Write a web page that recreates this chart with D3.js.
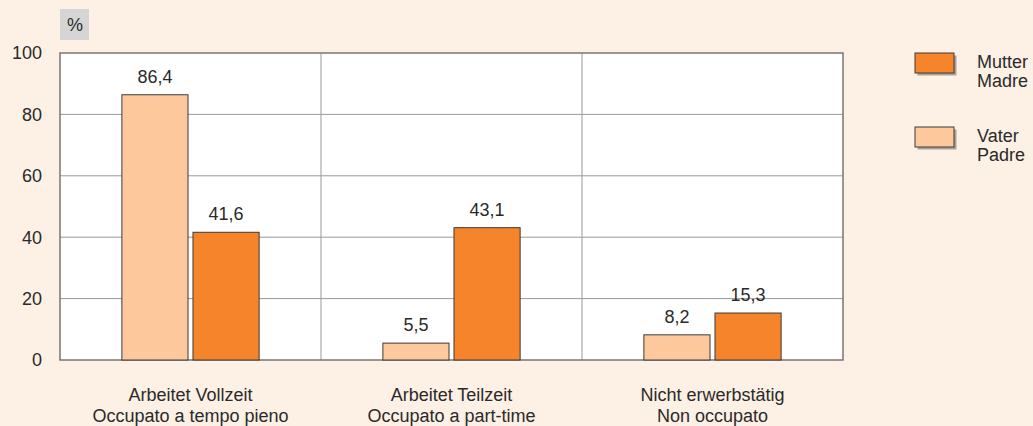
<!DOCTYPE html>
<html>
<head>
<meta charset="utf-8">
<script src="https://cdn.jsdelivr.net/npm/d3@7"></script>
<style>
  body { margin: 0; background: #fdf0e4; }
  text { font-family: "Liberation Sans", Arial, sans-serif; fill: #2a2a2a; }
</style>
</head>
<body>
<svg id="chart" width="1033" height="426"></svg>
<script>
var categories = ["Arbeitet Vollzeit|Occupato a tempo pieno", "Arbeitet Teilzeit|Occupato a part-time", "Nicht erwerbstätig|Non occupato"];
var series = ["Vater", "Mutter"];
var vater = [86.4, 5.5, 8.2];
var mutter = [41.6, 43.1, 15.3];
var yTicks = [0, 20, 40, 60, 80, 100];
var legendLabels = [["Mutter", "Madre"], ["Vater", "Padre"]];

var colors = { Vater: "#fdc99c", Mutter: "#f5842b" };

var svg = d3.select("#chart"),
    margin = {top: 53, right: 190, bottom: 66, left: 60},
    width = +svg.attr("width") - margin.left - margin.right,
    height = +svg.attr("height") - margin.top - margin.bottom;

var data = categories.map(function(c, i) {
	return { cat: c, Vater: vater[i], Mutter: mutter[i] };
});

var x0 = d3.scaleBand().domain(categories).range([0, width]).padding(0);
var x1 = d3.scaleBand().domain(series).range([0, x0.bandwidth()])
	.paddingInner(0.07).paddingOuter(0.87);
var y = d3.scaleLinear().domain([0, 100]).range([height, 0]);

var g = svg.append("g")
	.attr("transform", "translate(" + margin.left + "," + margin.top + ")");

// plot background
g.append("rect")
	.attr("width", width).attr("height", height)
	.attr("fill", "#fff");

// horizontal grid
g.selectAll(".grid")
	.data(yTicks.slice(1, -1))
	.enter().append("line")
	.attr("x1", 0).attr("x2", width)
	.attr("y1", function(d) { return y(d); })
	.attr("y2", function(d) { return y(d); })
	.attr("stroke", "#999").attr("stroke-width", 1);

// category dividers
g.selectAll(".div")
	.data(categories.slice(1))
	.enter().append("line")
	.attr("x1", function(d) { return x0(d); })
	.attr("x2", function(d) { return x0(d); })
	.attr("y1", 0).attr("y2", height)
	.attr("stroke", "#999").attr("stroke-width", 1);

// frame
g.append("rect")
	.attr("width", width).attr("height", height)
	.attr("fill", "none").attr("stroke", "#7a7470").attr("stroke-width", 1.5);

// y axis labels
g.selectAll(".ytick")
	.data(yTicks)
	.enter().append("text")
	.attr("x", -18)
	.attr("y", function(d) { return y(d); })
	.attr("dy", "0.36em")
	.attr("text-anchor", "end")
	.attr("font-size", 18)
	.text(function(d) { return d; });

// bars
var groups = g.selectAll(".cat")
	.data(data)
	.enter().append("g")
	.attr("transform", function(d) { return "translate(" + x0(d.cat) + ",0)"; });

groups.selectAll("rect")
	.data(function(d) { return series.map(function(s) { return { key: s, value: d[s] }; }); })
	.enter().append("rect")
	.attr("x", function(d) { return x1(d.key); })
	.attr("y", function(d) { return y(d.value); })
	.attr("width", x1.bandwidth())
	.attr("height", function(d) { return height - y(d.value); })
	.attr("fill", function(d) { return colors[d.key]; })
	.attr("stroke", "#3a3a3a").attr("stroke-width", 1);

groups.selectAll(".val")
	.data(function(d) { return series.map(function(s) { return { key: s, value: d[s] }; }); })
	.enter().append("text")
	.attr("x", function(d) { return x1(d.key) + x1.bandwidth() / 2; })
	.attr("y", function(d) { return y(d.value) - 12; })
	.attr("text-anchor", "middle")
	.attr("font-size", 18)
	.text(function(d) { return d3.format(".1f")(d.value).replace(".", ","); });

// category labels
groups.each(function(d) {
	var lines = d.cat.split("|");
	d3.select(this).selectAll(".cl")
		.data(lines)
		.enter().append("text")
		.attr("x", x0.bandwidth() / 2)
		.attr("y", function(t, i) { return height + 41 + i * 21; })
		.attr("text-anchor", "middle")
		.attr("font-size", 18)
		.text(function(t) { return t; });
});

// percent box
svg.append("rect")
	.attr("x", 60).attr("y", 9).attr("width", 29).attr("height", 31)
	.attr("fill", "#d5d5d5");
svg.append("text")
	.attr("x", 75).attr("y", 25).attr("dy", "0.36em")
	.attr("text-anchor", "middle").attr("font-size", 18)
	.text("%");

// legend
var legend = svg.selectAll(".legend")
	.data(legendLabels)
	.enter().append("g")
	.attr("transform", function(d, i) { return "translate(915," + (53 + i * 74) + ")"; });

legend.append("rect")
	.attr("x", 2.5).attr("y", 2.5).attr("width", 39).attr("height", 20)
	.attr("fill", "#6e6258").attr("opacity", 0.55);
legend.append("rect")
	.attr("width", 39).attr("height", 20)
	.attr("fill", function(d) { return colors[d[0] === "Mutter" ? "Mutter" : "Vater"]; })
	.attr("stroke", "#3a3a3a").attr("stroke-width", 1);
legend.selectAll(".lt")
	.data(function(d) { return d; })
	.enter().append("text")
	.attr("x", 62)
	.attr("y", function(t, i) { return 15 + i * 19; })
	.attr("font-size", 18)
	.text(function(t) { return t; });
</script>
</body>
</html>
